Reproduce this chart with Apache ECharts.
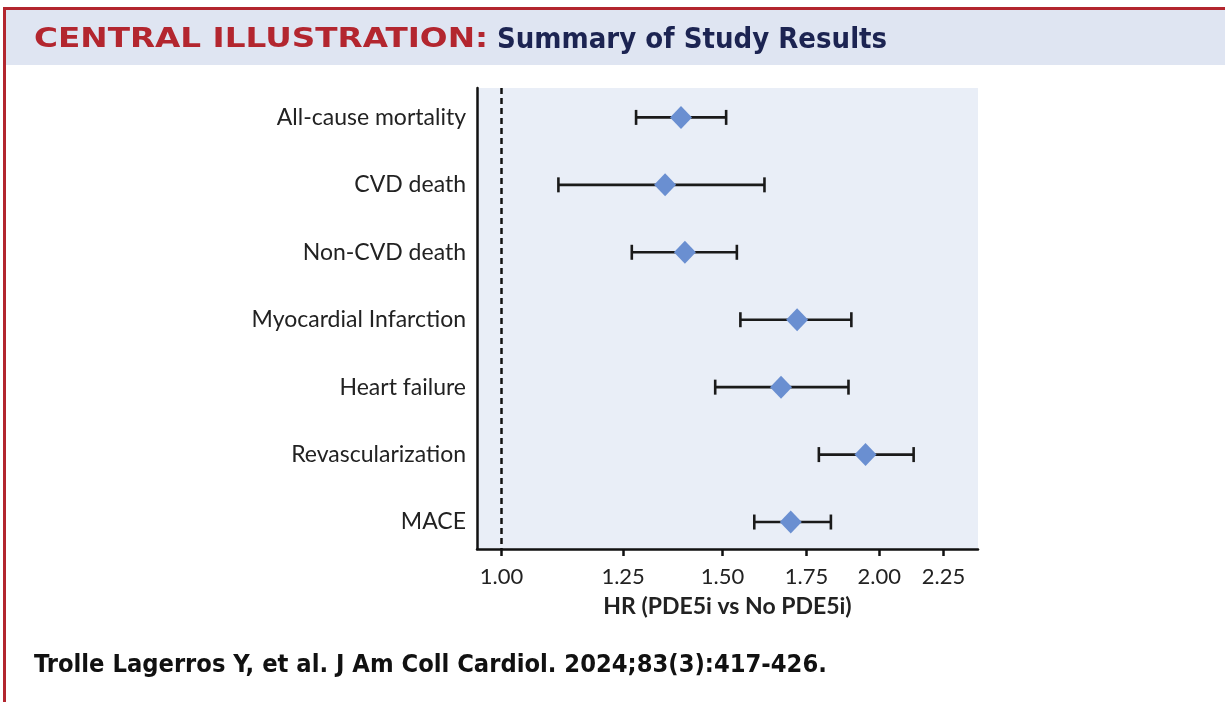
<!DOCTYPE html>
<html>
<head>
<meta charset="utf-8">
<script src="https://cdn.jsdelivr.net/npm/echarts@6/dist/echarts.min.js"></script>
<style>
  html, body { margin: 0; padding: 0; background: #ffffff; }
  #chart { width: 1225px; height: 702px; }
</style>
</head>
<body>
<div id="chart"></div>
<script>
// ---- data ----
const categories = [
  'All-cause mortality',
  'CVD death',
  'Non-CVD death',
  'Myocardial Infarction',
  'Heart failure',
  'Revascularization',
  'MACE'
];
const hr      = [1.39, 1.35, 1.40, 1.72, 1.67, 1.95, 1.70];
const ciLow   = [1.28, 1.11, 1.27, 1.55, 1.48, 1.79, 1.59];
const ciHigh  = [1.51, 1.62, 1.54, 1.90, 1.89, 2.13, 1.83];
const xTicks  = [1.00, 1.25, 1.50, 1.75, 2.00, 2.25];
const refLine = 1.00;
const titleRed = 'CENTRAL ILLUSTRATION:';
const titleBlue = 'Summary of Study Results';
const citation = 'Trolle Lagerros Y, et al. J Am Coll Cardiol. 2024;83(3):417-426.';
const xName = 'HR (PDE5i vs No PDE5i)';

const rowIdx = categories.map((_, i) => i);
const pointData = hr.map((v, i) => [v, i]);
const ciData = ciLow.map((v, i) => [v, ciHigh[i], i]);

const chart = echarts.init(document.getElementById('chart'), null, { renderer: 'canvas' });

const option = {
  backgroundColor: '#ffffff',
  animation: false,
  graphic: [
    { type: 'rect', shape: { x: 6, y: 10, width: 1219, height: 55 }, style: { fill: '#dfe5f2' }, z: 0 },
    { type: 'rect', shape: { x: 3, y: 7, width: 1222, height: 3 }, style: { fill: '#b3262f' }, z: 1 },
    { type: 'rect', shape: { x: 3, y: 7, width: 3, height: 695 }, style: { fill: '#b3262f' }, z: 1 },
    { type: 'text', x: 34, y: 40, scaleX: 1.21, style: { text: titleRed, fill: '#b3262f', font: 'bold 27px "DejaVu Sans"', textVerticalAlign: 'middle' }, z: 2 },
    { type: 'text', x: 497, y: 40, style: { text: titleBlue, fill: '#1c2452', font: 'bold 29px "DejaVu Sans Condensed", "Liberation Sans Narrow"', textVerticalAlign: 'middle' }, z: 2 },
    { type: 'text', x: 34, y: 665, scaleX: 1.01, style: { text: citation, fill: '#111111', font: 'bold 25px "DejaVu Sans Condensed", "Liberation Sans Narrow"', textVerticalAlign: 'middle' }, z: 2 }
  ],
  grid: {
    left: 477, right: 247, top: 88, bottom: 153,
    show: true, backgroundColor: '#e9eef7', borderWidth: 0
  },
  xAxis: {
    type: 'log',
    logBase: 10,
    min: 0.956,
    max: 2.397,
    name: xName,
    nameLocation: 'middle',
    nameGap: 46,
    nameTextStyle: { fontFamily: 'Lato', fontWeight: 'bold', fontSize: 23, color: '#222222' },
    axisLine: { show: true, onZero: false, lineStyle: { color: '#111111', width: 2.5 } },
    axisTick: { show: true, customValues: xTicks, length: 7, lineStyle: { color: '#111111', width: 2.5 } },
    axisLabel: {
      customValues: xTicks,
      margin: 17,
      fontFamily: 'Lato', fontSize: 22, color: '#222222',
      formatter: v => Number(v).toFixed(2)
    },
    splitLine: { show: false },
    minorTick: { show: false }
  },
  yAxis: {
    type: 'value',
    inverse: true,
    min: -0.436,
    max: 6.40,
    axisLine: { show: true, onZero: false, lineStyle: { color: '#111111', width: 2.5 } },
    axisTick: { show: false },
    axisLabel: {
      customValues: rowIdx,
      margin: 11,
      fontFamily: 'Lato', fontSize: 23, color: '#222222',
      formatter: v => categories[Math.round(v)] || ''
    },
    splitLine: { show: false }
  },
  series: [
    {
      type: 'custom',
      name: 'CI',
      data: ciData,
      encode: { x: [0, 1], y: 2 },
      z: 3,
      renderItem: function (params, api) {
        const y = api.value(2);
        const p1 = api.coord([api.value(0), y]);
        const p2 = api.coord([api.value(1), y]);
        const h = 7.5;
        const st = { stroke: '#1a1a1a', lineWidth: 2.6 };
        return {
          type: 'group',
          children: [
            { type: 'line', shape: { x1: p1[0], y1: p1[1], x2: p2[0], y2: p2[1] }, style: st },
            { type: 'line', shape: { x1: p1[0], y1: p1[1] - h, x2: p1[0], y2: p1[1] + h }, style: st },
            { type: 'line', shape: { x1: p2[0], y1: p2[1] - h, x2: p2[0], y2: p2[1] + h }, style: st }
          ]
        };
      }
    },
    {
      type: 'scatter',
      name: 'HR',
      data: pointData,
      symbol: 'diamond',
      symbolSize: [22, 23],
      itemStyle: { color: '#6a8fd1', opacity: 1 },
      z: 5,
      markLine: {
        silent: true,
        symbol: ['none', 'none'],
        label: { show: false },
        lineStyle: { color: '#111111', width: 2.5, type: [6, 4] },
        data: [{ xAxis: refLine }]
      }
    }
  ]
};

chart.setOption(option);
</script>
</body>
</html>
